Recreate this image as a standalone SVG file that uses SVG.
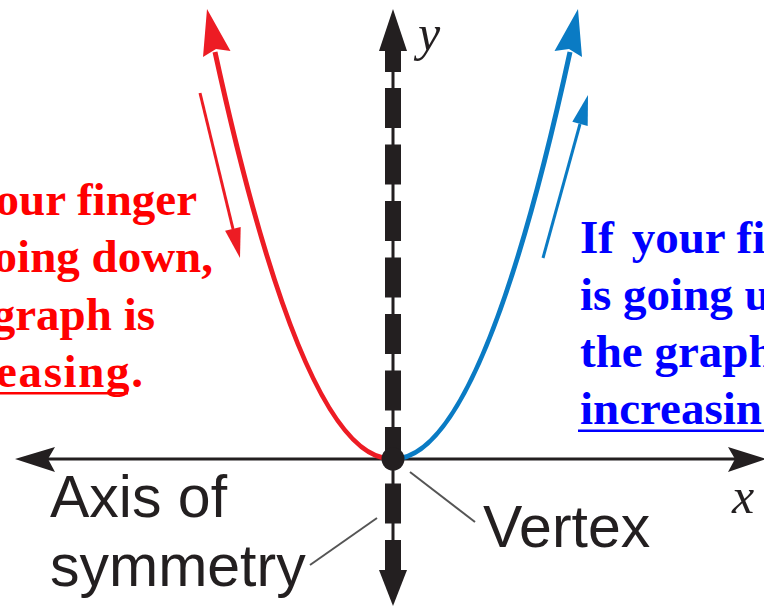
<svg xmlns="http://www.w3.org/2000/svg" width="764" height="607" viewBox="0 0 764 607">
<style>
.red{font-family:"Liberation Serif",serif;font-weight:bold;font-size:47px;fill:#ff0000}
.blue{font-family:"Liberation Serif",serif;font-weight:bold;font-size:47px;fill:#0000ff}
.lab{font-family:"Liberation Sans",Arial,sans-serif;font-size:59px;fill:#231f20}
.var{font-family:"Liberation Serif",serif;font-style:italic;font-size:50px;fill:#231f20}
.lead{stroke:#555;stroke-width:2;fill:none}
</style>
<rect width="764" height="607" fill="#fff"/>
<g id="connectors">
  <!-- x axis -->
  <line x1="40" y1="459" x2="745" y2="459" stroke="#231f20" stroke-width="3"/>
  <path d="M15,459 L55,447 L48,459 L55,472 Z" fill="#231f20"/>
  <path d="M766,459 L728,447 L735,459 L728,472 Z" fill="#231f20"/>
  <!-- y axis (axis of symmetry) -->
  <line x1="393" y1="40" x2="393" y2="585" stroke="#231f20" stroke-width="3"/>
  <line x1="393" y1="50" x2="393" y2="72" stroke="#231f20" stroke-width="16"/>
  <line x1="393" y1="88" x2="393" y2="580" stroke="#231f20" stroke-width="16" stroke-dasharray="40 16.5"/>
  <path d="M393,9 L379,51 L407,51 Z" fill="#231f20"/>
  <path d="M393,606 L379,570 L407,570 Z" fill="#231f20"/>
  <!-- red branch -->
  <path d="M392,459 Q303.5,459 215,52" stroke="#ed1c24" stroke-width="5" fill="none"/>
  <path d="M207,9 L230.5,51 L216,49 L203,57 Z" fill="#ed1c24"/>
  <!-- blue branch -->
  <path d="M393,459 Q481.5,459 570,52" stroke="#0a7bc4" stroke-width="5" fill="none"/>
  <path d="M578,9 L554.5,51 L569,49 L582,57 Z" fill="#0a7bc4"/>
  <!-- finger arrows -->
  <line x1="200" y1="93" x2="233" y2="229" stroke="#ed1c24" stroke-width="3"/>
  <path d="M240,258 L240.7,227 L225.1,230.7 Z" fill="#ed1c24"/>
  <line x1="543" y1="258" x2="580" y2="124" stroke="#0a7bc4" stroke-width="3"/>
  <path d="M588,95 L587.7,126 L572.3,121.8 Z" fill="#0a7bc4"/>
  <!-- leaders -->
  <line class="lead" x1="410" y1="472" x2="475" y2="522"/>
  <line class="lead" x1="310" y1="565" x2="377" y2="518"/>
</g>
<g id="vertex">
  <circle cx="393" cy="459" r="11.5" fill="#231f20"/>
</g>
<g id="label-decreasing">
  <text class="red" x="197" y="215" text-anchor="end">our finger</text>
  <text class="red" x="213" y="272" text-anchor="end">oing down,</text>
  <text class="red" x="155" y="330" text-anchor="end">graph is</text>
  <text class="red" x="-4" y="387" textLength="147">easing.</text>
  <rect x="0" y="392" width="128" height="2.5" fill="#ff0000"/>
</g>
<g id="label-increasing">
  <text class="blue" x="580" y="253">If<tspan dx="6"> your fi</tspan></text>
  <text class="blue" x="580" y="310">is going u</text>
  <text class="blue" x="580" y="367">the graph</text>
  <text class="blue" x="580" y="424">increasin</text>
  <rect x="578" y="429.5" width="186" height="2.5" fill="#0000ff"/>
</g>
<g id="label-axis">
  <text class="lab" x="50" y="517">Axis of</text>
  <text class="lab" x="50" y="586">symmetry</text>
</g>
<g id="label-vertex">
  <text class="lab" x="483" y="547">Vertex</text>
</g>
<g id="label-x"><text class="var" x="732" y="513">x</text></g>
<g id="label-y"><text class="var" x="418" y="50">y</text></g>
</svg>
